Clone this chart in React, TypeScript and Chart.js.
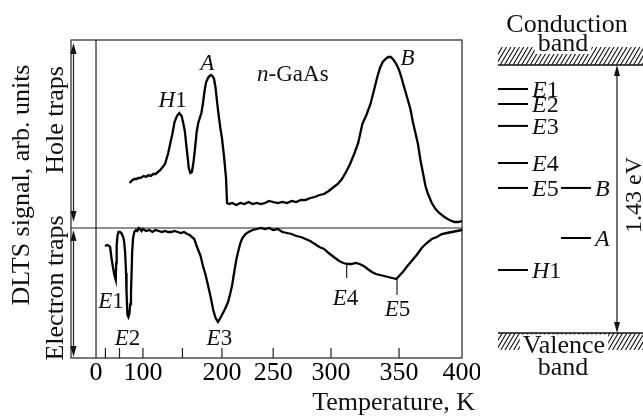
import React, { useEffect, useRef } from 'react';
import { Chart, registerables, LinearScale } from 'chart.js';

Chart.register(...registerables);

// ---------------- data ----------------
const TICK_TEMPS = [0, 20, 50, 100, 150, 200, 250, 300, 350, 400];
const TICK_LABELS = ['0', '', '', '100', '', '200', '250', '300', '350', '400'];

const HOLE_T = [
  72, 75, 78, 82, 86, 90, 94, 98, 101, 104, 107, 110, 113, 116, 119, 122, 125,
  128, 132, 135, 137, 140, 143, 146, 149, 151, 153, 155, 157, 158, 160, 162, 164, 166, 168, 170,
  172, 174, 176, 178, 180, 183, 186, 188, 190, 192, 194, 196, 198, 200, 202, 204, 205,
  207, 210, 214, 218, 222, 226, 230, 234, 238, 242, 246, 250, 254, 258, 262, 266, 270, 274,
  278, 282, 286, 290, 294, 298,
  302, 305, 308, 311, 314, 317, 320, 323, 326, 329, 332, 334, 336, 338, 340, 342, 344, 346,
  348, 350, 352, 354, 357, 359, 361, 363, 365, 367, 369, 371, 373, 376, 379, 382, 386, 390,
  394, 397, 400,
];
const HOLE_S = [
  45, 47, 48, 49, 49, 50, 50, 51, 52, 51, 53, 52, 54, 54, 56, 58, 61,
  64, 75, 86, 93, 106, 112, 115, 112, 105, 97, 82, 68, 60, 55, 56, 66, 80, 96, 105,
  110, 115, 125, 137, 146, 151, 153, 152, 149, 140, 125, 112, 100, 90, 72, 50, 25,
  24, 25, 23, 25, 24, 26, 24, 25, 24, 25, 27, 26, 25, 26, 25, 27, 26, 28,
  28, 30, 31, 33, 34, 37,
  41, 44, 49, 56, 64, 74, 85, 104, 113, 124, 140, 151, 160, 166, 169, 171, 171, 168,
  164, 158, 150, 141, 128, 119, 106, 95, 84, 68, 55, 42, 34, 25, 19, 15, 11, 8,
  6, 6, 7,
];

const ELECTRON_T = [
  19, 24, 28, 30, 33, 36, 39, 42, 43, 44, 46, 48, 51, 54, 58, 60, 62, 64, 65, 67, 69, 71, 73,
  74.5, 76, 77, 79, 81.5, 85, 88, 91, 94, 97, 100, 104, 108, 112, 116, 120, 124, 128, 132, 136,
  140, 144, 148, 152, 156, 159, 162, 165, 168, 171, 173, 176, 179, 182, 186, 189, 192, 195, 198,
  200, 203, 206, 208, 210, 212, 214, 216, 218, 220, 223, 226, 230, 234, 238, 242, 246, 250, 254,
  258, 262, 266, 270, 274, 278, 282, 286, 290, 294, 298, 302, 306, 309, 312, 315, 318, 321, 324,
  327, 330, 333, 336, 339, 342, 345, 348, 350, 353, 356, 360, 364, 368, 372, 376, 380, 384, 388,
  392, 396, 400,
];
const ELECTRON_S = [
  -18, -17, -18, -19, -30, -39, -47, -52, -35, -17, -7, -4, -4, -5, -9, -14, -24, -45, -64, -87, -89, -86, -76,
  -64, -42, -24, -10, -4, -2, -3, 0, -1, -3, -1, -3, -2, -4, -2, -3, -4, -3, -4, -4,
  -3, -4, -5, -4, -6, -7, -9, -11, -18, -24, -28, -38, -46, -56, -70, -82, -90, -94, -90,
  -87, -81, -74, -66, -57, -44, -32, -23, -15, -10, -6, -4, -2, -1, 0, -1, 0, -2, -1,
  -4, -5, -6, -8, -9, -11, -13, -16, -19, -21, -25, -29, -33, -35, -36, -36, -35, -36, -38,
  -41, -44, -46, -47, -48, -49, -50, -51, -48, -44, -39, -33, -27, -20, -15, -11, -9, -6, -5,
  -4, -3, -2,
];

const PEAK_LABELS = ['H1', 'A', 'B', 'n-GaAs', 'E1', 'E2', 'E3', 'E4', 'E5'];
const PEAK_LABEL_T = [137.6, 181.6, 356.7, 267, 31.9, 67, 196.8, 310.7, 348.9];
const PEAK_LABEL_S = [121, 158, 163, 147, -80, -117, -117, -77, -88];

const MARKER_T = [311.5, 348.5];
const MARKER_TOP = [-35, -50];
const MARKER_BOTTOM = [-50, -67];

const LEVEL_NAMES = ['E1', 'E2', 'E3', 'E4', 'E5', 'H1'];
const LEVEL_EV = [1.302, 1.222, 1.105, 0.907, 0.774, 0.336];
const HOLE_LEVEL_NAMES = ['B', 'A'];
const HOLE_LEVEL_EV = [0.774, 0.507];
const BAND_GAP_EV = 1.43;

// ---------------- non-uniform temperature axis ----------------
// [temperature, fraction of axis length] break points of the original's uneven scale
const X_BREAKS: [number, number][] = [
  [-53, 0], [0, 0.064], [100, 0.184], [200, 0.386], [250, 0.517], [300, 0.665], [350, 0.839], [400, 1],
];

function valueToDecimal(v: number): number {
  const k = X_BREAKS;
  let i = 1;
  while (i < k.length - 1 && v > k[i][0]) i++;
  const [v0, f0] = k[i - 1];
  const [v1, f1] = k[i];
  return f0 + ((v - v0) * (f1 - f0)) / (v1 - v0);
}
function decimalToValue(d: number): number {
  const k = X_BREAKS;
  let i = 1;
  while (i < k.length - 1 && d > k[i][1]) i++;
  const [v0, f0] = k[i - 1];
  const [v1, f1] = k[i];
  return v0 + ((d - f0) * (v1 - v0)) / (f1 - f0);
}

class BrokenScale extends LinearScale {
  static id = 'broken';
  getPixelForValue(value: any) {
    if (value === null || value === undefined || isNaN(value)) return NaN;
    return this.getPixelForDecimal(valueToDecimal(+value));
  }
  getValueForPixel(pixel: number) {
    return decimalToValue(this.getDecimalForPixel(pixel));
  }
}
Chart.register(BrokenScale as any);

// ---------------- drawing helpers ----------------
const FAM = '"Liberation Serif", "Times New Roman", "DejaVu Serif", serif';
const INK = '#111';

function font(size: number, italic = false) {
  return `${italic ? 'italic ' : ''}${size}px ${FAM}`;
}

// first character italic, the rest upright (E1, H1, n-GaAs ...)
function drawLabel(ctx: CanvasRenderingContext2D, name: string, x: number, y: number, size: number, align: 'center' | 'left') {
  const parts: [string, boolean][] = [[name.slice(0, 1), true], [name.slice(1), false]];
  const widths = parts.map(([t, it]) => {
    ctx.font = font(size, it);
    return ctx.measureText(t).width;
  });
  const total = widths[0] + widths[1];
  let cx = align === 'center' ? x - total / 2 : x;
  ctx.textAlign = 'left';
  ctx.textBaseline = 'alphabetic';
  parts.forEach(([t, it], i) => {
    ctx.font = font(size, it);
    ctx.fillText(t, cx, y);
    cx += widths[i];
  });
}

function rotText(ctx: CanvasRenderingContext2D, text: string, x: number, y: number, size: number) {
  ctx.save();
  ctx.translate(x, y);
  ctx.rotate(-Math.PI / 2);
  ctx.font = font(size);
  ctx.textAlign = 'center';
  ctx.textBaseline = 'alphabetic';
  ctx.fillText(text, 0, 0);
  ctx.restore();
}

function doubleArrow(ctx: CanvasRenderingContext2D, x: number, yTop: number, yBot: number) {
  const hl = 11, hw = 3;
  ctx.beginPath();
  ctx.moveTo(x, yTop + hl - 1);
  ctx.lineTo(x, yBot - hl + 1);
  ctx.stroke();
  ctx.beginPath();
  ctx.moveTo(x, yTop);
  ctx.lineTo(x - hw, yTop + hl);
  ctx.lineTo(x + hw, yTop + hl);
  ctx.closePath();
  ctx.fill();
  ctx.beginPath();
  ctx.moveTo(x, yBot);
  ctx.lineTo(x - hw, yBot - hl);
  ctx.lineTo(x + hw, yBot - hl);
  ctx.closePath();
  ctx.fill();
}

function hatch(ctx: CanvasRenderingContext2D, x0: number, y0: number, x1: number, y1: number) {
  const h = y1 - y0;
  const dx = h * 0.6;
  ctx.save();
  ctx.beginPath();
  ctx.rect(x0, y0, x1 - x0, h);
  ctx.clip();
  ctx.lineWidth = 1.1;
  ctx.beginPath();
  for (let x = x0 - dx; x < x1 + dx; x += 4.3) {
    ctx.moveTo(x, y1);
    ctx.lineTo(x + dx, y0);
  }
  ctx.stroke();
  ctx.restore();
}

// ---------------- plugins ----------------
const mainDecor = {
  id: 'mainDecor',
  beforeDatasetsDraw(chart: any) {
    const { ctx, chartArea: a, scales } = chart;
    const xs = scales.x, ys = scales.y;
    const y0 = ys.getPixelForValue(0);
    const x0 = xs.getPixelForValue(0);
    ctx.save();
    ctx.strokeStyle = '#222';
    ctx.fillStyle = '#111';
    ctx.lineWidth = 1.2;
    ctx.strokeRect(a.left, a.top, a.right - a.left, a.bottom - a.top);
    ctx.beginPath();
    ctx.moveTo(a.left, y0);
    ctx.lineTo(a.right, y0);
    ctx.moveTo(x0, a.top);
    ctx.lineTo(x0, a.bottom);
    // inward tick marks
    TICK_TEMPS.forEach((t) => {
      if (t === 0 || t === 400) return;
      const px = xs.getPixelForValue(t);
      ctx.moveTo(px, a.bottom);
      ctx.lineTo(px, a.bottom - 10);
    });
    ctx.stroke();
    // E4 / E5 markers
    ctx.beginPath();
    MARKER_T.forEach((t, i) => {
      const px = xs.getPixelForValue(t);
      ctx.moveTo(px, ys.getPixelForValue(MARKER_TOP[i]));
      ctx.lineTo(px, ys.getPixelForValue(MARKER_BOTTOM[i]));
    });
    ctx.stroke();
    // double arrows on the left
    doubleArrow(ctx, a.left + 2.5, a.top + 3, y0 - 6);
    doubleArrow(ctx, a.left + 2.5, y0 + 2, a.bottom - 1);
    ctx.restore();
  },
  afterDraw(chart: any) {
    const { ctx, chartArea: a, scales } = chart;
    const xs = scales.x, ys = scales.y;
    ctx.save();
    ctx.fillStyle = INK;
    rotText(ctx, 'DLTS signal, arb. units', 29, 185, 26);
    rotText(ctx, 'Hole traps', 63, 120, 26);
    rotText(ctx, 'Electron traps', 63, 288, 26);
    ctx.font = font(26);
    ctx.textAlign = 'right';
    ctx.textBaseline = 'alphabetic';
    ctx.fillText('Temperature, K', a.right + 13, 410);
    PEAK_LABELS.forEach((name, i) => {
      drawLabel(ctx, name, xs.getPixelForValue(PEAK_LABEL_T[i]), ys.getPixelForValue(PEAK_LABEL_S[i]), 23, 'center');
    });
    ctx.restore();
  },
};

const bandDecor = {
  id: 'bandDecor',
  beforeDatasetsDraw(chart: any) {
    const { ctx, scales } = chart;
    const ys = scales.y;
    const ec = ys.getPixelForValue(BAND_GAP_EV);
    const ev = ys.getPixelForValue(0);
    const W = chart.width;
    const left = 18;
    ctx.save();
    ctx.strokeStyle = '#111';
    ctx.fillStyle = INK;
    hatch(ctx, left, ec - 18, W, ec);
    hatch(ctx, left, ev, W, ev + 17);
    ctx.lineWidth = 1.6;
    ctx.beginPath();
    ctx.moveTo(left, ec);
    ctx.lineTo(W, ec);
    ctx.moveTo(left, ev);
    ctx.lineTo(W, ev);
    ctx.stroke();

    ctx.font = font(26);
    ctx.textAlign = 'center';
    ctx.textBaseline = 'alphabetic';
    ctx.fillText('Conduction', 87, 32);
    let w = ctx.measureText('band').width;
    ctx.fillStyle = '#fff';
    ctx.fillRect(83 - w / 2 - 3, ec - 20, w + 6, 51 + 3 - (ec - 20));
    w = ctx.measureText('Valence').width;
    ctx.fillRect(84 - w / 2 - 3, ev + 1.5, w + 6, 18);
    ctx.fillStyle = INK;
    ctx.fillText('band', 83, 51);
    ctx.fillText('Valence', 84, 353);
    ctx.fillText('band', 83, 375);

    ctx.lineWidth = 1.2;
    doubleArrow(ctx, 137, ec, ev);
    rotText(ctx, '1.43 eV', 161, 195, 24);
    ctx.restore();
  },
  afterDatasetsDraw(chart: any) {
    const { ctx, scales } = chart;
    const xs = scales.x, ys = scales.y;
    ctx.save();
    ctx.fillStyle = INK;
    LEVEL_NAMES.forEach((n, i) => {
      drawLabel(ctx, n, xs.getPixelForValue(0) + 19, ys.getPixelForValue(LEVEL_EV[i]) + 8, 24, 'left');
    });
    HOLE_LEVEL_NAMES.forEach((n, i) => {
      drawLabel(ctx, n, xs.getPixelForValue(1) + 19, ys.getPixelForValue(HOLE_LEVEL_EV[i]) + 8, 24, 'left');
    });
    ctx.restore();
  },
};

// ---------------- component ----------------
export default function App() {
  const mainRef = useRef<HTMLCanvasElement>(null);
  const bandRef = useRef<HTMLCanvasElement>(null);

  useEffect(() => {
    document.body.style.margin = '0';
    const lineStyle = {
      borderColor: '#000',
      borderWidth: 2.3,
      pointRadius: 0,
      tension: 0,
      fill: false,
      clip: false as any,
    };
    const main = new Chart(mainRef.current!, {
      type: 'line',
      data: {
        datasets: [
          { label: 'Hole traps', data: HOLE_T.map((t, i) => ({ x: t, y: HOLE_S[i] })), ...lineStyle },
          { label: 'Electron traps', data: ELECTRON_T.map((t, i) => ({ x: t, y: ELECTRON_S[i] })), ...lineStyle },
        ],
      },
      options: {
        animation: false,
        responsive: false,
        events: [],
        layout: { padding: { top: 40, left: 71, right: 18, bottom: 0 } },
        plugins: { legend: { display: false }, tooltip: { enabled: false } },
        scales: {
          x: {
            type: 'broken' as any,
            min: -53,
            max: 400,
            position: 'bottom',
            grid: { display: false, drawTicks: false },
            border: { display: false },
            ticks: {
              autoSkip: false,
              maxRotation: 0,
              padding: 0,
              color: '#000',
              font: { family: FAM, size: 26 },
              callback: (_v: any, i: number) => TICK_LABELS[i] ?? '',
            },
            afterBuildTicks: (s: any) => {
              s.ticks = TICK_TEMPS.map((v) => ({ value: v }));
            },
            afterFit: (s: any) => {
              s.height = 62;
              s.paddingLeft = 0;
              s.paddingRight = 0;
            },
          } as any,
          y: { type: 'linear', min: -130, max: 188, display: false },
        },
      },
      plugins: [mainDecor],
    });

    const levelStyle = {
      pointStyle: 'line' as any,
      pointRadius: 15,
      pointBorderWidth: 2,
      pointBorderColor: '#000',
      clip: false as any,
    };
    const band = new Chart(bandRef.current!, {
      type: 'scatter',
      data: {
        datasets: [
          { label: 'Electron levels', data: LEVEL_EV.map((e) => ({ x: 0, y: e })), ...levelStyle },
          { label: 'Hole levels', data: HOLE_LEVEL_EV.map((e) => ({ x: 1, y: e })), ...levelStyle },
        ],
      },
      options: {
        animation: false,
        responsive: false,
        events: [],
        layout: { padding: { top: 65, left: 33, right: 67, bottom: 87 } },
        plugins: { legend: { display: false }, tooltip: { enabled: false } },
        scales: {
          x: { type: 'linear', min: 0, max: 1, display: false },
          y: { type: 'linear', min: 0, max: BAND_GAP_EV, display: false },
        },
      },
      plugins: [bandDecor],
    });

    return () => {
      main.destroy();
      band.destroy();
    };
  }, []);

  return (
    <div style={{ position: 'relative', width: 643, height: 420, background: '#fff' }}>
      <canvas ref={mainRef} width={480} height={420} style={{ position: 'absolute', left: 0, top: 0 }} />
      <canvas ref={bandRef} width={163} height={420} style={{ position: 'absolute', left: 480, top: 0 }} />
    </div>
  );
}
